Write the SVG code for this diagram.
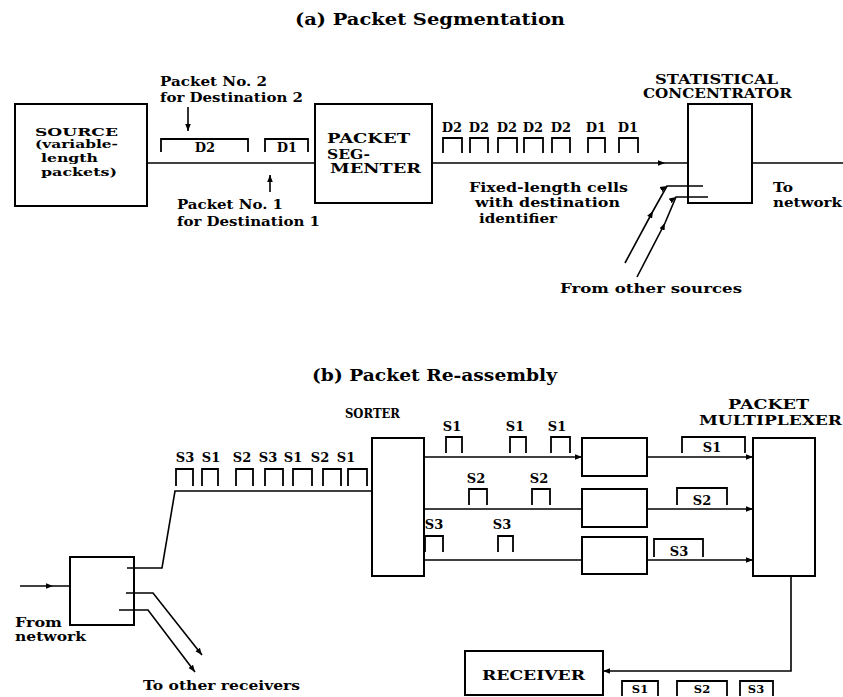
<svg xmlns="http://www.w3.org/2000/svg" width="843" height="697" viewBox="0 0 843 697">
<defs>
<style>
.t{font-family:"DejaVu Serif","Liberation Serif",serif;font-weight:bold;font-size:13px;fill:#000}
.c{text-anchor:middle}
.ti{font-size:17px}
.sm{font-size:11.5px}
.xs{font-size:11px}
.ln{fill:none;stroke:#000;stroke-width:1.6}
.box{fill:none;stroke:#000;stroke-width:2}
.cell{fill:none;stroke:#000;stroke-width:1.8}
</style>
<marker id="ah" viewBox="0 0 10 10" refX="10" refY="5" markerWidth="7" markerHeight="7" orient="auto" markerUnits="userSpaceOnUse"><path d="M0,1 L10,5 L0,9 z" fill="#000"/></marker>
</defs>
<rect width="843" height="697" fill="#fff"/>

<text class="t ti" x="295" y="25" textLength="270" lengthAdjust="spacingAndGlyphs">(a) Packet Segmentation</text>
<text class="t ti" x="312" y="381" textLength="245" lengthAdjust="spacingAndGlyphs">(b) Packet Re-assembly</text>

<g id="connectors">
<line class="ln" x1="147" y1="163" x2="315" y2="163"/>
<line class="ln" x1="188" y1="107" x2="188" y2="131" marker-end="url(#ah)"/>
<line class="ln" x1="270" y1="192" x2="270" y2="175" marker-end="url(#ah)"/>
<polyline class="ln" points="432,163 665,163 688,163" marker-mid="url(#ah)"/>
<line class="ln" x1="752" y1="163" x2="843" y2="163"/>
<polyline class="ln" points="625,263 653,211 667,186 703,186" marker-mid="url(#ah)"/>
<polyline class="ln" points="637,277 665,223 676,197 708,197" marker-mid="url(#ah)"/>

<polyline class="ln" points="20,586 53,586 70,586" marker-mid="url(#ah)"/>
<polyline class="ln" points="127,568 162,568 175,491 371,491"/>
<polyline class="ln" points="126,593 153,593 202,655" marker-end="url(#ah)"/>
<polyline class="ln" points="119,610 148,610 195,672" marker-end="url(#ah)"/>
<line class="ln" x1="424" y1="457" x2="582" y2="457" marker-end="url(#ah)"/>
<line class="ln" x1="424" y1="509" x2="582" y2="509"/>
<line class="ln" x1="424" y1="560" x2="582" y2="560"/>
<line class="ln" x1="647" y1="457" x2="753" y2="457" marker-end="url(#ah)"/>
<line class="ln" x1="647" y1="509" x2="753" y2="509" marker-end="url(#ah)"/>
<line class="ln" x1="647" y1="560" x2="753" y2="560" marker-end="url(#ah)"/>
<polyline class="ln" points="791,576 791,671 603,671" marker-end="url(#ah)"/>
</g>

<g id="packet-labels-a">
<text class="t" x="160" y="86" textLength="107" lengthAdjust="spacingAndGlyphs">Packet No. 2</text>
<text class="t" x="160" y="102" textLength="143" lengthAdjust="spacingAndGlyphs">for Destination 2</text>
<path class="cell" d="M161,152 V139 H248 V152 M265,152 V139 H308 V152"/>
<text class="t c" x="205" y="152">D2</text>
<text class="t c" x="287" y="152">D1</text>
<text class="t" x="177" y="209" textLength="106" lengthAdjust="spacingAndGlyphs">Packet No. 1</text>
<text class="t" x="177" y="226" textLength="143" lengthAdjust="spacingAndGlyphs">for Destination 1</text>
</g>

<g id="source">
<rect class="box" x="15" y="104" width="132" height="102"/>
<text class="t sm" x="35" y="136" textLength="83" lengthAdjust="spacingAndGlyphs">SOURCE</text>
<text class="t xs" x="35" y="148" textLength="83" lengthAdjust="spacingAndGlyphs">(variable-</text>
<text class="t xs" x="41" y="162" textLength="57" lengthAdjust="spacingAndGlyphs">length</text>
<text class="t xs" x="41" y="176" textLength="76" lengthAdjust="spacingAndGlyphs">packets)</text>
</g>

<g id="segmenter">
<rect class="box" x="315" y="104" width="117" height="99"/>
<text class="t" x="327" y="143" textLength="83" lengthAdjust="spacingAndGlyphs">PACKET</text>
<text class="t" x="327" y="159" textLength="43" lengthAdjust="spacingAndGlyphs">SEG-</text>
<text class="t" x="330" y="173" textLength="91" lengthAdjust="spacingAndGlyphs">MENTER</text>
</g>

<g id="cells-a">
<path class="cell" d="M443,153 V138 H462 V153 M470,153 V138 H488 V153 M498,153 V138 H517 V153 M524,153 V138 H543 V153 M552,153 V138 H570 V153 M588,153 V138 H605 V153 M619,153 V138 H638 V153"/>
<text class="t c" x="452" y="132">D2</text>
<text class="t c" x="479" y="132">D2</text>
<text class="t c" x="507" y="132">D2</text>
<text class="t c" x="533" y="132">D2</text>
<text class="t c" x="561" y="132">D2</text>
<text class="t c" x="596" y="132">D1</text>
<text class="t c" x="628" y="132">D1</text>
<text class="t" x="469" y="192" textLength="159" lengthAdjust="spacingAndGlyphs">Fixed-length cells</text>
<text class="t" x="475" y="207" textLength="145" lengthAdjust="spacingAndGlyphs">with destination</text>
<text class="t" x="479" y="223" textLength="78" lengthAdjust="spacingAndGlyphs">identifier</text>
</g>

<g id="concentrator">
<rect class="box" x="688" y="104" width="64" height="99"/>
<text class="t" x="655" y="84" textLength="123" lengthAdjust="spacingAndGlyphs">STATISTICAL</text>
<text class="t" x="643" y="98" textLength="149" lengthAdjust="spacingAndGlyphs">CONCENTRATOR</text>
<text class="t" x="773" y="192" textLength="20" lengthAdjust="spacingAndGlyphs">To</text>
<text class="t" x="773" y="207" textLength="69" lengthAdjust="spacingAndGlyphs">network</text>
<text class="t" x="560" y="293" textLength="182" lengthAdjust="spacingAndGlyphs">From other sources</text>
</g>

<g id="demux">
<rect class="box" x="70" y="557" width="64" height="68"/>
<text class="t" x="15" y="627" textLength="47" lengthAdjust="spacingAndGlyphs">From</text>
<text class="t" x="15" y="641" textLength="71" lengthAdjust="spacingAndGlyphs">network</text>
<text class="t" x="143" y="690" textLength="157" lengthAdjust="spacingAndGlyphs">To other receivers</text>
</g>

<g id="cells-b">
<path class="cell" d="M176,486 V469 H193 V486 M202,486 V469 H218 V486 M236,486 V469 H253 V486 M265,486 V469 H283 V486 M293,486 V469 H312 V486 M323,486 V469 H341 V486 M348,486 V469 H367 V486"/>
<text class="t c" x="185" y="462">S3</text>
<text class="t c" x="211" y="462">S1</text>
<text class="t c" x="242" y="462">S2</text>
<text class="t c" x="268" y="462">S3</text>
<text class="t c" x="293" y="462">S1</text>
<text class="t c" x="320" y="462">S2</text>
<text class="t c" x="346" y="462">S1</text>
</g>

<g id="sorter">
<rect class="box" x="372" y="438" width="52" height="138"/>
<text class="t" x="345" y="418" textLength="55" lengthAdjust="spacingAndGlyphs">SORTER</text>
</g>

<g id="sorted-cells">
<path class="cell" d="M446,453 V437 H462 V453 M510,453 V437 H526 V453 M551,453 V437 H570 V453"/>
<text class="t c" x="452" y="431">S1</text>
<text class="t c" x="515" y="431">S1</text>
<text class="t c" x="557" y="431">S1</text>
<path class="cell" d="M469,505 V489 H487 V505 M532,505 V489 H550 V505"/>
<text class="t c" x="476" y="483">S2</text>
<text class="t c" x="539" y="483">S2</text>
<path class="cell" d="M425,552 V536 H443 V552 M498,552 V536 H513 V552"/>
<text class="t c" x="434" y="529">S3</text>
<text class="t c" x="502" y="529">S3</text>
</g>

<g id="buffer1"><rect class="box" x="582" y="438" width="65" height="38"/></g>
<g id="buffer2"><rect class="box" x="582" y="489" width="65" height="38"/></g>
<g id="buffer3"><rect class="box" x="582" y="537" width="65" height="37"/></g>

<g id="reassembled">
<path class="cell" d="M682,453 V437 H745 V453 M677,505 V488 H727 V505 M654,557 V539 H703 V557"/>
<text class="t c" x="712" y="452">S1</text>
<text class="t c" x="702" y="505">S2</text>
<text class="t c" x="679" y="556">S3</text>
</g>

<g id="multiplexer">
<rect class="box" x="753" y="438" width="62" height="138"/>
<text class="t" x="728" y="409" textLength="81" lengthAdjust="spacingAndGlyphs">PACKET</text>
<text class="t" x="699" y="425" textLength="143" lengthAdjust="spacingAndGlyphs">MULTIPLEXER</text>
</g>

<g id="receiver">
<rect class="box" x="465" y="651" width="138" height="44"/>
<text class="t" x="482" y="680" textLength="103" lengthAdjust="spacingAndGlyphs">RECEIVER</text>
</g>

<g id="output-packets">
<path class="cell" d="M622,696 V681 H658 V696 M677,696 V681 H727 V696 M740,696 V681 H773 V696"/>
<text class="t c sm" x="640" y="693">S1</text>
<text class="t c sm" x="702" y="693">S2</text>
<text class="t c sm" x="756" y="693">S3</text>
</g>
</svg>
